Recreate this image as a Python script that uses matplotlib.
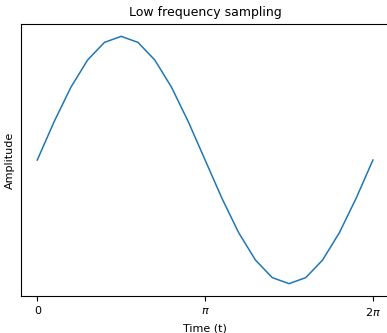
import numpy as np
import matplotlib
matplotlib.use('Agg')
import matplotlib.pyplot as plt

# samples (21 points over one period)
t = np.linspace(0, 2 * np.pi, 21)
amplitude = [0.0, 0.309, 0.588, 0.809, 0.951, 1.0, 0.951, 0.809, 0.588, 0.309,
             0.0, -0.309, -0.588, -0.809, -0.951, -1.0, -0.951, -0.809, -0.588,
             -0.309, 0.0]
tick_pos = [0, np.pi, 2 * np.pi]
tick_labels = ['0', r'$\pi$', r'$2\pi$']

plt.rcParams['font.size'] = 8
fig, ax = plt.subplots(figsize=(3.87, 3.33), dpi=100)
ax.plot(t, amplitude, color='C0', lw=1.1)
ax.set_title('Low frequency sampling', fontsize=9)
ax.set_xlabel('Time (t)')
ax.set_ylabel('Amplitude')
ax.set_xticks(tick_pos)
ax.set_xticklabels(tick_labels)
ax.set_yticks([])
# axes run past the right edge of the image, as in the original
ax.spines['right'].set_visible(False)
fig.subplots_adjust(left=0.053, right=1.007, top=0.928, bottom=0.111)
fig.savefig('out.png')
